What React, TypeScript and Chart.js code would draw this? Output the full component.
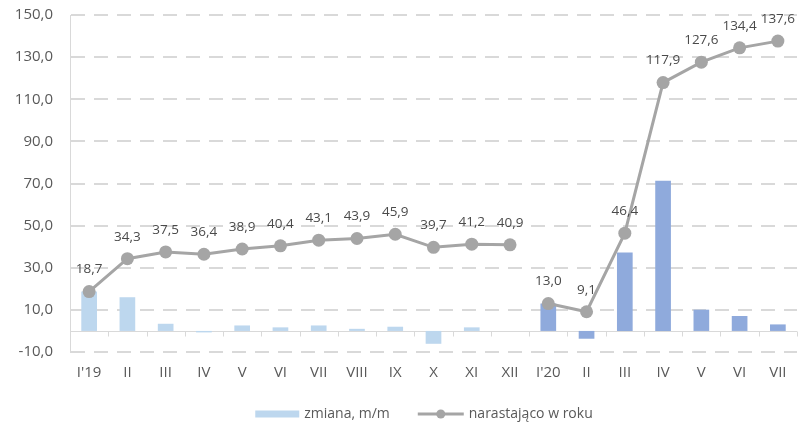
import React, { useEffect, useRef } from "react";
import { Chart, registerables } from "chart.js";

Chart.register(...registerables);

// Months, Jan 2019 – Jul 2020
const months = [
  "I'19", "II", "III", "IV", "V", "VI", "VII", "VIII", "IX", "X", "XI", "XII",
  "I'20", "II", "III", "IV", "V", "VI", "VII",
];

// Month-on-month change (bars)
const monthlyChange = [
  18.7, 16.0, 3.4, -0.7, 2.6, 1.7, 2.6, 1.0, 2.0, -6.1, 1.7, 0,
  13.0, -3.7, 37.2, 71.3, 10.1, 7.1, 3.1,
];

// Year-to-date cumulative (line)
const cumulative = [
  18.7, 34.3, 37.5, 36.4, 38.9, 40.4, 43.1, 43.9, 45.9, 39.7, 41.2, 40.9,
  13.0, 9.1, 46.4, 117.9, 127.6, 134.4, 137.6,
];

const yMin = -10;
const yMax = 150;
const yStep = 20;

const barLabel = "zmiana, m/m";
const lineLabel = "narastająco w roku";

const COLOR_2019 = "#BDD7EE";
const COLOR_2020 = "#8FAADC";
const LINE_COLOR = "#A5A5A5";
const GRID_COLOR = "#D9D9D9";
const TEXT_COLOR = "#595959";
const FONT = "'Open Sans', sans-serif";

const fmt = (v: number) => v.toFixed(1).replace(".", ",");

// Solid zero line with small tick marks between categories
const zeroAxisPlugin = {
  id: "zeroAxis",
  beforeDatasetsDraw(chart: any) {
    const { ctx, chartArea, scales } = chart;
    const y0 = Math.round(scales.y.getPixelForValue(0)) + 0.5;
    const x = scales.x;
    const n = months.length;
    const step = (chartArea.right - chartArea.left) / n;
    ctx.save();
    ctx.strokeStyle = GRID_COLOR;
    ctx.lineWidth = 1;
    ctx.beginPath();
    ctx.moveTo(chartArea.left, y0);
    ctx.lineTo(chartArea.right, y0);
    for (let i = 1; i <= n; i++) {
      const xp = Math.round(x.getPixelForValue(i - 1) + step / 2) + 0.5;
      ctx.moveTo(xp, y0);
      ctx.lineTo(xp, y0 + 5);
    }
    ctx.stroke();
    ctx.restore();
  },
};

// Value labels above line points
const pointLabelPlugin = {
  id: "pointLabels",
  afterDatasetsDraw(chart: any) {
    const { ctx } = chart;
    const meta = chart.getDatasetMeta(1);
    ctx.save();
    ctx.font = `13.5px ${FONT}`;
    ctx.fillStyle = "#4a4a4a";
    ctx.textAlign = "center";
    ctx.textBaseline = "middle";
    meta.data.forEach((pt: any, i: number) => {
      ctx.fillText(fmt(cumulative[i]), pt.x, pt.y - 22);
    });
    ctx.restore();
  },
};

// Legend drawn under the axis
const legendPlugin = {
  id: "customLegend",
  afterDraw(chart: any) {
    const { ctx } = chart;
    const y = 414;
    ctx.save();
    ctx.font = `14px ${FONT}`;
    ctx.textBaseline = "middle";
    ctx.textAlign = "left";
    const w1 = ctx.measureText(barLabel).width;
    const w2 = ctx.measureText(lineLabel).width;
    const total = 44 + 5 + w1 + 28 + 46 + 5 + w2;
    let x = 424 - total / 2;
    ctx.fillStyle = COLOR_2019;
    ctx.fillRect(x, y - 3.5, 44, 7);
    x += 49;
    ctx.fillStyle = TEXT_COLOR;
    ctx.fillText(barLabel, x, y);
    x += w1 + 28;
    ctx.strokeStyle = LINE_COLOR;
    ctx.lineWidth = 3;
    ctx.beginPath();
    ctx.moveTo(x, y);
    ctx.lineTo(x + 46, y);
    ctx.stroke();
    ctx.fillStyle = LINE_COLOR;
    ctx.beginPath();
    ctx.arc(x + 23, y, 4.5, 0, Math.PI * 2);
    ctx.fill();
    x += 51;
    ctx.fillStyle = TEXT_COLOR;
    ctx.fillText(lineLabel, x, y);
    ctx.restore();
  },
};

export default function App() {
  const canvasRef = useRef<HTMLCanvasElement | null>(null);

  useEffect(() => {
    document.body.style.margin = "0";
    const canvas = canvasRef.current;
    if (!canvas) return;

    const chart = new Chart(canvas, {
      type: "bar",
      data: {
        labels: months,
        datasets: [
          {
            type: "bar",
            label: barLabel,
            data: monthlyChange,
            backgroundColor: months.map((_, i) => (i < 12 ? COLOR_2019 : COLOR_2020)),
            barPercentage: 0.41,
            categoryPercentage: 1,
            order: 2,
          },
          {
            type: "line",
            label: lineLabel,
            data: cumulative,
            borderColor: LINE_COLOR,
            backgroundColor: LINE_COLOR,
            borderWidth: 3,
            pointRadius: 6.5,
            pointBackgroundColor: LINE_COLOR,
            pointBorderWidth: 0,
            tension: 0,
            order: 1,
            clip: false,
            segment: {
              borderColor: (ctx: any) => (ctx.p0DataIndex === 11 ? "transparent" : LINE_COLOR),
            },
          } as any,
        ],
      },
      options: {
        animation: false,
        responsive: false,
        maintainAspectRatio: false,
        layout: { autoPadding: false, padding: { top: 15, right: 4, left: 0, bottom: 0 } },
        plugins: {
          legend: { display: false },
          title: { display: false },
          tooltip: { enabled: false },
        },
        scales: {
          x: {
            grid: { display: false, drawTicks: false },
            border: { display: false },
            ticks: {
              color: TEXT_COLOR,
              font: { family: FONT, size: 15 },
              padding: 12,
              maxRotation: 0,
              autoSkip: false,
            },
            afterFit: (scale: any) => {
              scale.height = 71;
            },
          },
          y: {
            min: yMin,
            max: yMax,
            grid: {
              color: GRID_COLOR,
              lineWidth: 2,
              drawTicks: false,
            },
            border: { display: true, color: GRID_COLOR, width: 1, dash: [14, 9] },
            ticks: {
              stepSize: yStep,
              color: TEXT_COLOR,
              font: { family: FONT, size: 15 },
              padding: 17,
              callback: (v: any) => fmt(Number(v)),
            },
            afterFit: (scale: any) => {
              scale.width = 70;
              scale.paddingTop = 10;
              scale.paddingBottom = 10;
            },
          },
        },
      },
      plugins: [zeroAxisPlugin, pointLabelPlugin, legendPlugin],
    });

    return () => chart.destroy();
  }, []);

  return (
    <div style={{ width: 801, height: 423, position: "relative", background: "#fff" }}>
      <canvas ref={canvasRef} width={801} height={423} style={{ display: "block" }} />
    </div>
  );
}
